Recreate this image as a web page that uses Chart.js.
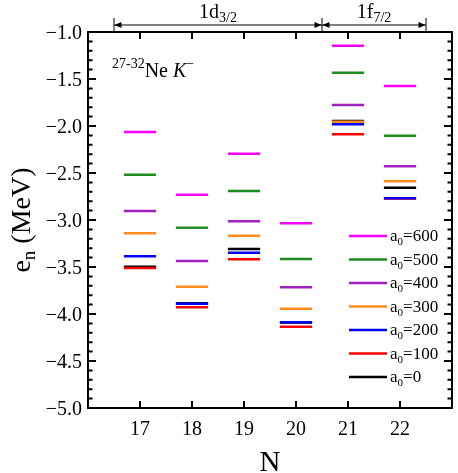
<!DOCTYPE html>
<html>
<head>
<meta charset="utf-8">
<script src="https://cdn.jsdelivr.net/npm/chart.js@4.4.1/dist/chart.umd.min.js"></script>
<style>
  html, body { margin: 0; padding: 0; background: #fff; }
  canvas { display: block; }
</style>
</head>
<body>
<canvas id="levels" width="458" height="473"></canvas>
<script>
// neutron numbers N (one column of levels each)
const neutrons = [17, 18, 19, 20, 21, 22];

// single-particle energies e_n (MeV), one array per a0
const a0Values = [600, 500, 400, 300, 200, 100, 0];
const e600 = [-2.064, -2.731, -2.294, -3.035, -1.146, -1.574];
const e500 = [-2.518, -3.082, -2.691, -3.415, -1.433, -2.103];
const e400 = [-2.904, -3.436, -3.014, -3.716, -1.777, -2.429];
const e300 = [-3.142, -3.709, -3.167, -3.944, -1.954, -2.588];
const e200 = [-3.386, -3.892, -3.348, -4.087, -1.982, -2.769];
const e100 = [-3.510, -3.928, -3.418, -4.136, -2.088, -2.772];
const e0   = [-3.498, -3.885, -3.309, -4.090, -1.948, -2.656];

const xTickLabels = [17, 18, 19, 20, 21, 22];
const yTickLabels = [-1.0, -1.5, -2.0, -2.5, -3.0, -3.5, -4.0, -4.5, -5.0];

// shell brackets above the plot
const shells = [
  { name: '1d', sub: '3/2', from: 16.5, to: 20.5 },
  { name: '1f', sub: '7/2', from: 20.5, to: 22.5 }
];

const seriesColors = ['#ff00ff', '#1e8c1e', '#a020c0', '#ff8c1a', '#0000ff', '#ff0000', '#000000'];
const levelSeries = [e600, e500, e400, e300, e200, e100, e0];
const halfWidth = 0.31;
const serif = '"Liberation Serif", serif';

// each level is a short horizontal segment centred on its N
function toSegments(values) {
  const pts = [];
  neutrons.forEach((n, j) => {
    pts.push({ x: n - halfWidth, y: values[j] });
    pts.push({ x: n + halfWidth, y: values[j] });
    pts.push({ x: n, y: null });
  });
  return pts;
}

const datasets = levelSeries.map((vals, i) => ({
  label: String(a0Values[i]),
  data: toSegments(vals),
  borderColor: seriesColors[i],
  backgroundColor: seriesColors[i],
  borderWidth: 2.5,
  pointRadius: 0,
  fill: false,
  spanGaps: false,
  tension: 0
}));

function drawText(ctx, parts, x, y) {
  // parts: [text, fontSize, dy, italic]
  let cx = x;
  parts.forEach(p => {
    ctx.font = (p[3] ? 'italic ' : '') + p[1] + 'px ' + serif;
    ctx.fillText(p[0], cx, y + (p[2] || 0));
    cx += ctx.measureText(p[0]).width;
  });
  return cx;
}
function textWidth(ctx, parts) {
  let w = 0;
  parts.forEach(p => {
    ctx.font = (p[3] ? 'italic ' : '') + p[1] + 'px ' + serif;
    w += ctx.measureText(p[0]).width;
  });
  return w;
}

const decorPlugin = {
  id: 'decor',
  afterDraw(chart) {
    const ctx = chart.ctx;
    const a = chart.chartArea;
    const xs = chart.scales.x, ys = chart.scales.y;
    ctx.save();
    ctx.strokeStyle = '#000';
    ctx.fillStyle = '#000';

    // frame
    ctx.lineWidth = 2;
    ctx.strokeRect(a.left, a.top, a.right - a.left, a.bottom - a.top);

    // inward ticks
    ctx.beginPath();
    xTickLabels.forEach(v => {
      const px = xs.getPixelForValue(v);
      ctx.moveTo(px, a.bottom); ctx.lineTo(px, a.bottom - 7);
      ctx.moveTo(px, a.top); ctx.lineTo(px, a.top + 7);
    });
    for (let k = 0; k <= 40; k++) {
      const v = -1 - k * 0.1;
      const py = ys.getPixelForValue(v);
      const len = (k % 5 === 0) ? 8 : 4.5;
      ctx.moveTo(a.left, py); ctx.lineTo(a.left + len, py);
      ctx.moveTo(a.right, py); ctx.lineTo(a.right - len, py);
    }
    ctx.stroke();

    // y tick labels
    ctx.font = '20px ' + serif;
    ctx.textAlign = 'right';
    ctx.textBaseline = 'alphabetic';
    yTickLabels.forEach(v => {
      ctx.fillText(v.toFixed(1).replace('-', '\u2212'), a.left - 6, ys.getPixelForValue(v) + 7);
    });
    // x tick labels
    ctx.textAlign = 'center';
    xTickLabels.forEach(v => {
      ctx.fillText(String(v), xs.getPixelForValue(v), a.bottom + 27);
    });

    // shell brackets
    const yArrow = a.top - 7;
    ctx.lineWidth = 1;
    ctx.beginPath();
    const edges = [];
    shells.forEach(s => { edges.push(s.from, s.to); });
    [...new Set(edges)].forEach(v => {
      const px = xs.getPixelForValue(v);
      ctx.moveTo(px, a.top - 14); ctx.lineTo(px, a.top);
    });
    shells.forEach(s => {
      ctx.moveTo(xs.getPixelForValue(s.from), yArrow);
      ctx.lineTo(xs.getPixelForValue(s.to), yArrow);
    });
    ctx.stroke();
    ctx.textAlign = 'left';
    shells.forEach(s => {
      const x1 = xs.getPixelForValue(s.from) + 0.5, x2 = xs.getPixelForValue(s.to) - 0.5;
      ctx.beginPath();
      ctx.moveTo(x1, yArrow); ctx.lineTo(x1 + 7, yArrow - 3); ctx.lineTo(x1 + 7, yArrow + 3); ctx.closePath();
      ctx.moveTo(x2, yArrow); ctx.lineTo(x2 - 7, yArrow - 3); ctx.lineTo(x2 - 7, yArrow + 3); ctx.closePath();
      ctx.fill();
      const parts = [[s.name, 20, 0], [s.sub, 14, 4]];
      const mid = (xs.getPixelForValue(s.from) + xs.getPixelForValue(s.to)) / 2;
      drawText(ctx, parts, mid - textWidth(ctx, parts) / 2, a.top - 14);
    });

    // nucleus label
    drawText(ctx, [['27-32', 14, -9], ['Ne ', 20, 0], ['K', 20, 0, true], ['\u2212', 14, -9]],
      a.left + 24, a.top + 45);

    // legend
    const n = chart.data.datasets.length;
    chart.data.datasets.forEach((ds, i) => {
      const ly = a.bottom - 31 - (n - 1 - i) * 23.5;
      ctx.strokeStyle = ds.borderColor;
      ctx.lineWidth = 2.5;
      ctx.beginPath();
      ctx.moveTo(a.right - 103, ly); ctx.lineTo(a.right - 65, ly);
      ctx.stroke();
      ctx.fillStyle = '#000';
      drawText(ctx, [['a', 17, 0], ['0', 11, 4], ['=' + ds.label, 17, 0]], a.right - 62, ly + 5);
    });

    // y axis title
    ctx.save();
    ctx.translate(30, (a.top + a.bottom) / 2);
    ctx.rotate(-Math.PI / 2);
    const tParts = [['e', 28, 0], ['n', 19, 5], [' (MeV)', 28, 0]];
    drawText(ctx, tParts, -textWidth(ctx, tParts) / 2, 0);
    ctx.restore();

    // x axis title
    ctx.font = '29px ' + serif;
    ctx.textAlign = 'center';
    ctx.fillText('N', (a.left + a.right) / 2, chart.height - 2);

    ctx.restore();
  }
};

function build() {
  new Chart(document.getElementById('levels').getContext('2d'), {
    type: 'line',
    data: { datasets: datasets },
    options: {
      responsive: false,
      animation: false,
      layout: { padding: { top: 32, right: 6, left: 0, bottom: 0 } },
      plugins: { legend: { display: false }, tooltip: { enabled: false } },
      scales: {
        x: {
          type: 'linear',
          min: 16, max: 23,
          grid: { display: false, drawTicks: false },
          border: { display: false },
          afterBuildTicks: s => { s.ticks = xTickLabels.map(v => ({ value: v })); },
          afterFit: s => { s.height = 65; },
          ticks: { display: false }
        },
        y: {
          min: -5, max: -1,
          grid: { display: false, drawTicks: false },
          border: { display: false },
          afterBuildTicks: s => { s.ticks = yTickLabels.map(v => ({ value: v })); },
          afterFit: s => { s.width = 88; },
          ticks: { display: false }
        }
      }
    },
    plugins: [decorPlugin]
  });
}

Promise.all([
  document.fonts.load('20px "Liberation Serif"'),
  document.fonts.load('italic 20px "Liberation Serif"')
]).then(build, build);
</script>
</body>
</html>
